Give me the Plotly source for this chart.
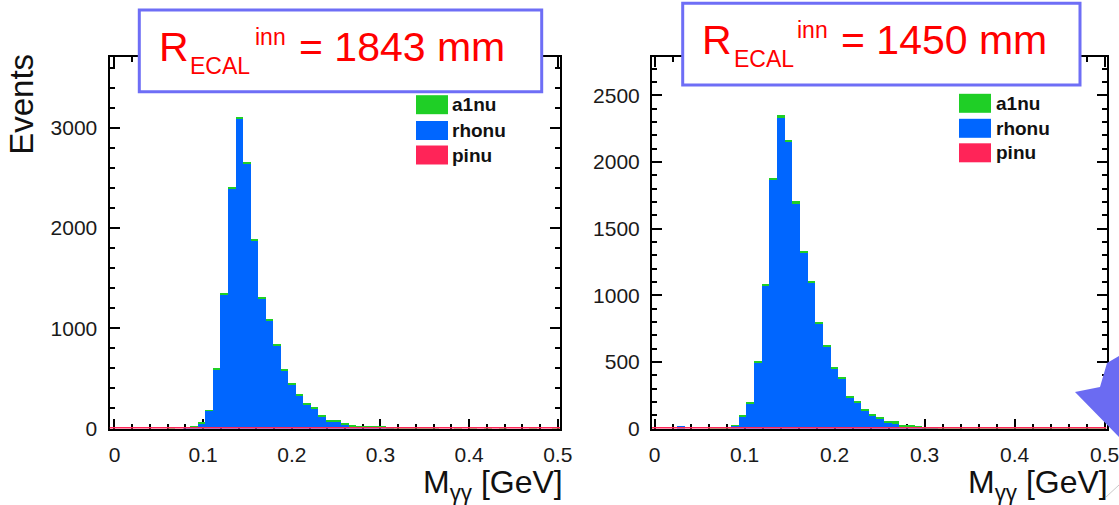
import numpy as np
import plotly.graph_objects as go

# ---- histogram data: 60 bins of M_gammagamma starting at 0 ----
N_BINS = 60
BIN_WIDTH = 0.0085  # GeV

# R_ECAL^inn = 1843 mm
a1nu_1843 = [0, 0, 0, 0, 0, 0, 0, 5, 0, 2,
             3, 5, 7, 9, 10, 12, 15, 15, 12, 8,
             12, 10, 9, 10, 10, 12, 15, 8, 11, 9,
             10, 13, 11, 15, 15, 20, 11, 12, 12, 12,
             10, 5, 3, 0, 0, 8, 0, 3, 0, 3,
             0, 3, 0, 0, 0, 8, 0, 0, 10, 0]
rhonu_1843 = [0, 0, 0, 0, 0, 0, 0, 0, 0, 10,
              17, 52, 176, 588, 1337, 2395, 3095, 2640, 1878, 1297,
              1076, 823, 583, 440, 330, 236, 195, 120, 72, 68,
              38, 20, 12, 8, 5, 7, 2, 0, 0, 0,
              0, 0, 0, 0, 0, 0, 0, 0, 0, 0,
              0, 0, 0, 0, 0, 0, 0, 0, 0, 0]
pinu_1843 = [0] * N_BINS

# R_ECAL^inn = 1450 mm
a1nu_1450 = [0, 0, 0, 0, 0, 0, 0, 3, 2, 5,
             3, 5, 7, 9, 10, 13, 17, 15, 13, 15,
             12, 10, 10, 10, 10, 10, 12, 10, 8, 10,
             12, 18, 12, 10, 10, 9, 10, 12, 8, 8,
             6, 5, 6, 4, 6, 5, 4, 6, 5, 5,
             4, 6, 5, 4, 5, 6, 4, 5, 5, 0]
rhonu_1450 = [0, 0, 0, 20, 0, 0, 0, 0, 0, 0,
              22, 90, 190, 498, 1073, 1865, 2333, 2150, 1692, 1320,
              1098, 785, 612, 450, 378, 230, 196, 135, 94, 74,
              45, 37, 18, 15, 10, 3, 2, 0, 0, 0,
              0, 0, 0, 0, 0, 0, 0, 0, 0, 0,
              0, 0, 0, 0, 0, 0, 0, 0, 0, 0]
pinu_1450 = [0] * N_BINS

x_tick_step = 0.1
y_tick_step_1843, y_minor_1843 = 1000, 200
y_tick_step_1450, y_minor_1450 = 500, 100

COL_A1NU = "#1fcf26"
COL_RHONU = "#0066ff"
COL_PINU = "#ff2458"
BOX_COL = "#6e6ef6"
FONT = "Liberation Sans, Arial, sans-serif"

W, H = 1119, 505


def px(x):
    return x / W


def py(y):
    return 1 - y / H


centers = (np.arange(N_BINS) + 0.5) * BIN_WIDTH
edges = np.arange(N_BINS + 1) * BIN_WIDTH

xr1 = [-0.0056, 0.5025]
xr2 = [-0.0028, 0.502]
yr1 = [0, 3705]
yr2 = [0, 2788]

fig = go.Figure()


def add_stack(xa, ya, xr, pinu, rhonu, a1nu):
    fig.add_trace(go.Bar(x=centers, y=rhonu, width=BIN_WIDTH, marker=dict(color=COL_RHONU, line=dict(width=0)),
                         xaxis=xa, yaxis=ya, showlegend=False, name="rhonu"))
    fig.add_trace(go.Bar(x=centers, y=a1nu, width=BIN_WIDTH, marker=dict(color=COL_A1NU, line=dict(width=0)),
                         xaxis=xa, yaxis=ya, showlegend=False, name="a1nu"))
    # pinu drawn as a step outline along its (empty) bins
    xs = np.concatenate([[xr[0]], np.clip(edges, xr[0], xr[1])])
    ys = np.concatenate([[pinu[0]], pinu, [pinu[-1]]])
    fig.add_trace(go.Scatter(x=xs, y=ys, mode="lines", line=dict(color=COL_PINU, width=3, shape="hv"),
                             cliponaxis=False, xaxis=xa, yaxis=ya, showlegend=False, name="pinu"))


add_stack("x", "y", xr1, pinu_1843, rhonu_1843, a1nu_1843)
add_stack("x2", "y2", xr2, pinu_1450, rhonu_1450, a1nu_1450)

ax_common = dict(showline=True, linecolor="black", linewidth=2, mirror="allticks",
                 ticks="inside", ticklen=10, tickwidth=2, tickcolor="black",
                 showgrid=False, zeroline=False, layer="below traces", automargin=False,
                 ticklabeloverflow="allow",
                 tickfont=dict(family=FONT, size=21, color="#1a1a1a"))

ydom = [py(428.5), py(57)]
fig.update_layout(
    width=W, height=H, margin=dict(l=0, r=0, t=0, b=0, autoexpand=False),
    paper_bgcolor="white", plot_bgcolor="white", barmode="stack", bargap=0,
    showlegend=False,
    xaxis=dict(domain=[px(109.5), px(560)], range=xr1, dtick=x_tick_step, tick0=0, anchor="y",
               minor=dict(ticks="inside", ticklen=5, tickwidth=2, tickcolor="black", dtick=0.02, showgrid=False),
               ticklabelstandoff=6, **ax_common),
    yaxis=dict(domain=ydom, range=yr1, dtick=y_tick_step_1843, anchor="x",
               minor=dict(ticks="inside", ticklen=5, tickwidth=2, tickcolor="black", dtick=y_minor_1843, showgrid=False),
               ticklabelstandoff=6, **ax_common),
    xaxis2=dict(domain=[px(652), px(1106.5)], range=xr2, dtick=x_tick_step, tick0=0, anchor="y2",
                minor=dict(ticks="inside", ticklen=5, tickwidth=2, tickcolor="black", dtick=0.02, showgrid=False),
                ticklabelstandoff=6, **ax_common),
    yaxis2=dict(domain=ydom, range=yr2, dtick=y_tick_step_1450, anchor="x2",
                minor=dict(ticks="inside", ticklen=5, tickwidth=2, tickcolor="black", dtick=y_minor_1450, showgrid=False),
                ticklabelstandoff=6, **ax_common),
)

shapes = []
annotations = []


def text(x, y, s, size, color="black", xanchor="left", bold=False, angle=0, yanchor="middle"):
    annotations.append(dict(x=px(x), y=py(y), xref="paper", yref="paper", text=s, showarrow=False,
                            xanchor=xanchor, yanchor=yanchor, textangle=angle, borderpad=0, borderwidth=0,
                            font=dict(family=FONT, size=size, color=color,
                                      weight="bold" if bold else "normal")))


def title_box(x0, y0, x1, y1, r_x, ecal_x, inn_x, eq_x, base, value):
    shapes.append(dict(type="rect", xref="paper", yref="paper", x0=px(x0), x1=px(x1), y0=py(y1), y1=py(y0),
                       line=dict(color=BOX_COL, width=3), fillcolor="white", layer="above"))
    big, small = 41, 23
    text(r_x, base - 0.35 * big, "R", big, color="#ff0000")
    text(ecal_x, base + 12.5 - 0.35 * small, "ECAL", small, color="#ff0000")
    text(inn_x, base - 16.5 - 0.35 * small, "inn", small, color="#ff0000")
    text(eq_x, base - 0.35 * big, "= %d mm" % value, big, color="#ff0000")


title_box(139.3, 10, 541.7, 91.7, 158.5, 190, 255, 299, 61.7, 1843)
title_box(682.7, 3.3, 1080, 85, 702, 733.5, 796.5, 840.5, 54.3, 1450)


def legend(x_sw, x_txt, rows):
    for (yc, col, name) in rows:
        shapes.append(dict(type="rect", xref="paper", yref="paper", x0=px(x_sw), x1=px(x_sw + 32),
                           y0=py(yc + 9.5), y1=py(yc - 9.5), line=dict(width=0), fillcolor=col, layer="above"))
        text(x_txt, yc, name, 19, color="#111111", bold=True)


legend(416, 452.5, [(104.7, COL_A1NU, "a1nu"), (130.5, COL_RHONU, "rhonu"), (155, COL_PINU, "pinu")])
legend(959, 996, [(103.3, COL_A1NU, "a1nu"), (128.3, COL_RHONU, "rhonu"), (152.8, COL_PINU, "pinu")])

# axis titles
text(21.8, 104, "Events", 33, color="#111111", xanchor="center", angle=-90)
text(562.7, 484, "M<sub>γγ</sub> [GeV]", 32, color="#111111", xanchor="right")
text(1107.5, 484, "M<sub>γγ</sub> [GeV]", 32, color="#111111", xanchor="right")

# decorative arrow head at the lower right edge
pts = [(1075, 392), (1100, 387), (1107, 363), (1119, 356), (1119, 437)]
path = "M " + " L ".join("%f,%f" % (px(a), py(b)) for a, b in pts) + " Z"
shapes.append(dict(type="path", xref="paper", yref="paper", path=path, fillcolor="#6b6bf2",
                   line=dict(width=0), layer="above"))
shapes.append(dict(type="line", xref="paper", yref="paper", x0=px(1106), y0=py(497), x1=px(1119), y1=py(485),
                   line=dict(color="#c8c8c8", width=1), layer="above"))

fig.update_layout(shapes=shapes, annotations=annotations)
fig.write_html("out.html")
